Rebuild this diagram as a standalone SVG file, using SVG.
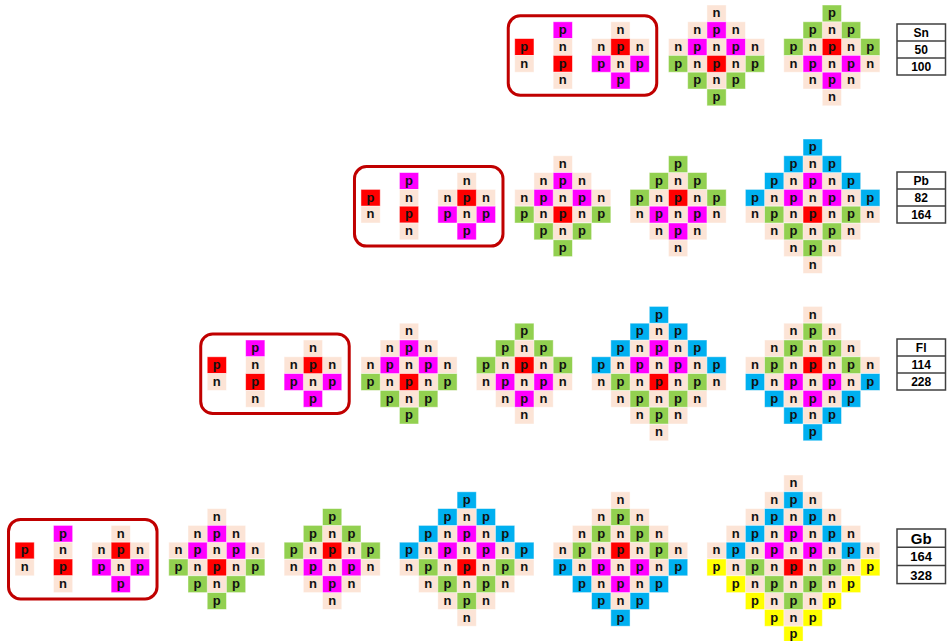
<svg xmlns="http://www.w3.org/2000/svg" xmlns:xlink="http://www.w3.org/1999/xlink" width="947" height="641" viewBox="0 0 947 641">
<style>
.n{fill:#FCE4D6}.M{fill:#FF00FF}.R{fill:#FF0000}.G{fill:#92D050}.B{fill:#00B0F0}.Y{fill:#FFFF00}
.cells rect{stroke:#ffffff;stroke-opacity:.55;stroke-width:.8}
.t{font-family:"Liberation Sans",Arial,sans-serif;font-weight:bold;font-size:13px;fill:#111;text-anchor:middle}
.frame{fill:none;stroke:#C00000;stroke-width:3}
.tb{fill:#fff;stroke:#404040;stroke-width:1.5}
.tt{font-family:"Liberation Sans",Arial,sans-serif;font-weight:bold;font-size:12px;fill:#000;text-anchor:middle}
</style>
<defs>
<g id="bg1" class="cells">
<rect class="n" x="38.44" y="0" width="19.22" height="16.8"/>
<rect class="n" x="19.22" y="16.8" width="57.66" height="16.8"/>
<rect class="n" x="0" y="33.6" width="96.1" height="16.8"/>
<rect class="n" x="0" y="50.4" width="96.1" height="16.8"/>
<rect class="n" x="19.22" y="67.2" width="57.66" height="16.8"/>
<rect class="M" x="38.44" y="16.8" width="19.22" height="16.8"/>
<rect class="M" x="19.22" y="33.6" width="19.22" height="16.8"/>
<rect class="M" x="57.66" y="33.6" width="19.22" height="16.8"/>
<rect class="G" x="0" y="50.4" width="19.22" height="16.8"/>
<rect class="R" x="38.44" y="50.4" width="19.22" height="16.8"/>
<rect class="G" x="76.88" y="50.4" width="19.22" height="16.8"/>
<rect class="G" x="19.22" y="67.2" width="19.22" height="16.8"/>
<rect class="G" x="57.66" y="67.2" width="19.22" height="16.8"/>
<rect class="G" x="38.44" y="84" width="19.22" height="16.8"/>
</g>
<g id="bg2" class="cells">
<rect class="n" x="19.22" y="16.8" width="57.66" height="16.8"/>
<rect class="n" x="0" y="33.6" width="96.1" height="16.8"/>
<rect class="n" x="0" y="50.4" width="96.1" height="16.8"/>
<rect class="n" x="19.22" y="67.2" width="57.66" height="16.8"/>
<rect class="n" x="38.44" y="84" width="19.22" height="16.8"/>
<rect class="G" x="38.44" y="0" width="19.22" height="16.8"/>
<rect class="G" x="19.22" y="16.8" width="19.22" height="16.8"/>
<rect class="G" x="57.66" y="16.8" width="19.22" height="16.8"/>
<rect class="G" x="0" y="33.6" width="19.22" height="16.8"/>
<rect class="R" x="38.44" y="33.6" width="19.22" height="16.8"/>
<rect class="G" x="76.88" y="33.6" width="19.22" height="16.8"/>
<rect class="M" x="19.22" y="50.4" width="19.22" height="16.8"/>
<rect class="M" x="57.66" y="50.4" width="19.22" height="16.8"/>
<rect class="M" x="38.44" y="67.2" width="19.22" height="16.8"/>
</g>
<g id="bg3" class="cells">
<rect class="n" x="38.44" y="16.8" width="57.66" height="16.8"/>
<rect class="n" x="19.22" y="33.6" width="96.1" height="16.8"/>
<rect class="n" x="0" y="50.4" width="134.54" height="16.8"/>
<rect class="n" x="0" y="67.2" width="134.54" height="16.8"/>
<rect class="n" x="19.22" y="84" width="96.1" height="16.8"/>
<rect class="n" x="38.44" y="100.8" width="57.66" height="16.8"/>
<rect class="n" x="57.66" y="117.6" width="19.22" height="16.8"/>
<rect class="B" x="57.66" y="0" width="19.22" height="16.8"/>
<rect class="B" x="38.44" y="16.8" width="19.22" height="16.8"/>
<rect class="B" x="76.88" y="16.8" width="19.22" height="16.8"/>
<rect class="B" x="19.22" y="33.6" width="19.22" height="16.8"/>
<rect class="M" x="57.66" y="33.6" width="19.22" height="16.8"/>
<rect class="B" x="96.1" y="33.6" width="19.22" height="16.8"/>
<rect class="B" x="0" y="50.4" width="19.22" height="16.8"/>
<rect class="M" x="38.44" y="50.4" width="19.22" height="16.8"/>
<rect class="M" x="76.88" y="50.4" width="19.22" height="16.8"/>
<rect class="B" x="115.32" y="50.4" width="19.22" height="16.8"/>
<rect class="G" x="19.22" y="67.2" width="19.22" height="16.8"/>
<rect class="R" x="57.66" y="67.2" width="19.22" height="16.8"/>
<rect class="G" x="96.1" y="67.2" width="19.22" height="16.8"/>
<rect class="G" x="38.44" y="84" width="19.22" height="16.8"/>
<rect class="G" x="76.88" y="84" width="19.22" height="16.8"/>
<rect class="G" x="57.66" y="100.8" width="19.22" height="16.8"/>
</g>
<g id="bg4" class="cells">
<rect class="n" x="57.66" y="0" width="19.22" height="16.8"/>
<rect class="n" x="38.44" y="16.8" width="57.66" height="16.8"/>
<rect class="n" x="19.22" y="33.6" width="96.1" height="16.8"/>
<rect class="n" x="0" y="50.4" width="134.54" height="16.8"/>
<rect class="n" x="0" y="67.2" width="134.54" height="16.8"/>
<rect class="n" x="19.22" y="84" width="96.1" height="16.8"/>
<rect class="n" x="38.44" y="100.8" width="57.66" height="16.8"/>
<rect class="G" x="57.66" y="16.8" width="19.22" height="16.8"/>
<rect class="G" x="38.44" y="33.6" width="19.22" height="16.8"/>
<rect class="G" x="76.88" y="33.6" width="19.22" height="16.8"/>
<rect class="G" x="19.22" y="50.4" width="19.22" height="16.8"/>
<rect class="R" x="57.66" y="50.4" width="19.22" height="16.8"/>
<rect class="G" x="96.1" y="50.4" width="19.22" height="16.8"/>
<rect class="B" x="0" y="67.2" width="19.22" height="16.8"/>
<rect class="M" x="38.44" y="67.2" width="19.22" height="16.8"/>
<rect class="M" x="76.88" y="67.2" width="19.22" height="16.8"/>
<rect class="B" x="115.32" y="67.2" width="19.22" height="16.8"/>
<rect class="B" x="19.22" y="84" width="19.22" height="16.8"/>
<rect class="M" x="57.66" y="84" width="19.22" height="16.8"/>
<rect class="B" x="96.1" y="84" width="19.22" height="16.8"/>
<rect class="B" x="38.44" y="100.8" width="19.22" height="16.8"/>
<rect class="B" x="76.88" y="100.8" width="19.22" height="16.8"/>
<rect class="B" x="57.66" y="117.6" width="19.22" height="16.8"/>
</g>
<g id="bg5" class="cells">
<rect class="n" x="76.88" y="0" width="19.22" height="16.8"/>
<rect class="n" x="57.66" y="16.8" width="57.66" height="16.8"/>
<rect class="n" x="38.44" y="33.6" width="96.1" height="16.8"/>
<rect class="n" x="19.22" y="50.4" width="134.54" height="16.8"/>
<rect class="n" x="0" y="67.2" width="172.98" height="16.8"/>
<rect class="n" x="0" y="84" width="172.98" height="16.8"/>
<rect class="n" x="19.22" y="100.8" width="134.54" height="16.8"/>
<rect class="n" x="38.44" y="117.6" width="96.1" height="16.8"/>
<rect class="n" x="57.66" y="134.4" width="57.66" height="16.8"/>
<rect class="B" x="76.88" y="16.8" width="19.22" height="16.8"/>
<rect class="B" x="57.66" y="33.6" width="19.22" height="16.8"/>
<rect class="B" x="96.1" y="33.6" width="19.22" height="16.8"/>
<rect class="B" x="38.44" y="50.4" width="19.22" height="16.8"/>
<rect class="M" x="76.88" y="50.4" width="19.22" height="16.8"/>
<rect class="B" x="115.32" y="50.4" width="19.22" height="16.8"/>
<rect class="B" x="19.22" y="67.2" width="19.22" height="16.8"/>
<rect class="M" x="57.66" y="67.2" width="19.22" height="16.8"/>
<rect class="M" x="96.1" y="67.2" width="19.22" height="16.8"/>
<rect class="B" x="134.54" y="67.2" width="19.22" height="16.8"/>
<rect class="Y" x="0" y="84" width="19.22" height="16.8"/>
<rect class="G" x="38.44" y="84" width="19.22" height="16.8"/>
<rect class="R" x="76.88" y="84" width="19.22" height="16.8"/>
<rect class="G" x="115.32" y="84" width="19.22" height="16.8"/>
<rect class="Y" x="153.76" y="84" width="19.22" height="16.8"/>
<rect class="Y" x="19.22" y="100.8" width="19.22" height="16.8"/>
<rect class="G" x="57.66" y="100.8" width="19.22" height="16.8"/>
<rect class="G" x="96.1" y="100.8" width="19.22" height="16.8"/>
<rect class="Y" x="134.54" y="100.8" width="19.22" height="16.8"/>
<rect class="Y" x="38.44" y="117.6" width="19.22" height="16.8"/>
<rect class="G" x="76.88" y="117.6" width="19.22" height="16.8"/>
<rect class="Y" x="115.32" y="117.6" width="19.22" height="16.8"/>
<rect class="Y" x="57.66" y="134.4" width="19.22" height="16.8"/>
<rect class="Y" x="96.1" y="134.4" width="19.22" height="16.8"/>
<rect class="Y" x="76.88" y="151.2" width="19.22" height="16.8"/>
</g>
<g id="bgb" class="cells">
<rect class="R" x="0" y="16.8" width="19.22" height="16.8"/>
<rect class="n" x="0" y="33.6" width="19.22" height="16.8"/>
<rect class="M" x="38.44" y="0" width="19.22" height="16.8"/>
<rect class="n" x="38.44" y="16.8" width="19.22" height="16.8"/>
<rect class="R" x="38.44" y="33.6" width="19.22" height="16.8"/>
<rect class="n" x="38.44" y="50.4" width="19.22" height="16.8"/>
<rect class="n" x="96.1" y="0" width="19.22" height="16.8"/>
<rect class="n" x="76.88" y="16.8" width="57.66" height="16.8"/>
<rect class="n" x="76.88" y="33.6" width="57.66" height="16.8"/>
<rect class="R" x="96.1" y="16.8" width="19.22" height="16.8"/>
<rect class="M" x="76.88" y="33.6" width="19.22" height="16.8"/>
<rect class="M" x="115.32" y="33.6" width="19.22" height="16.8"/>
<rect class="M" x="96.1" y="50.4" width="19.22" height="16.8"/>
</g>
</defs>
<rect width="947" height="641" fill="#fff"/>

<!-- Sn -->
<g id="sn-box" transform="translate(514.74,21.8)">
<rect class="frame" x="-6.5" y="-6" width="148.5" height="79.5" rx="12"/>
<use href="#bgb"/>
<text class="t"><tspan x="9.61" y="29">p</tspan><tspan x="9.61" y="45.8">n</tspan></text>
<text class="t"><tspan x="48.05" y="12.2">p</tspan><tspan x="48.05" y="29">n</tspan><tspan x="48.05" y="45.8">p</tspan><tspan x="48.05" y="62.6">n</tspan></text>
<text class="t"><tspan x="105.71" y="12.2">n</tspan><tspan x="86.49 105.71 124.93" y="29">npn</tspan><tspan x="86.49 105.71 124.93" y="45.8">pnp</tspan><tspan x="105.71" y="62.6">p</tspan></text>
</g>
<g id="sn-d1" transform="translate(668.5,5)">
<use href="#bg1"/>
<text class="t"><tspan x="48.05" y="12.2">n</tspan><tspan x="28.83 48.05 67.27" y="29">npn</tspan><tspan x="9.61 28.83 48.05 67.27 86.49" y="45.8">npnpn</tspan><tspan x="9.61 28.83 48.05 67.27 86.49" y="62.6">pnpnp</tspan><tspan x="28.83 48.05 67.27" y="79.4">pnp</tspan><tspan x="48.05" y="96.2">p</tspan></text>
</g>
<g id="sn-d2" transform="translate(783.82,5)">
<use href="#bg2"/>
<text class="t"><tspan x="48.05" y="12.2">p</tspan><tspan x="28.83 48.05 67.27" y="29">pnp</tspan><tspan x="9.61 28.83 48.05 67.27 86.49" y="45.8">pnpnp</tspan><tspan x="9.61 28.83 48.05 67.27 86.49" y="62.6">npnpn</tspan><tspan x="28.83 48.05 67.27" y="79.4">npn</tspan><tspan x="48.05" y="96.2">n</tspan></text>
</g>
<g id="sn-label">
<rect class="tb" x="897" y="24" width="48.5" height="51"/>
<line class="tb" x1="897" y1="41" x2="945.5" y2="41"/><line class="tb" x1="897" y1="58" x2="945.5" y2="58"/>
<text class="tt" x="921.2" y="37">Sn</text><text class="tt" x="921.2" y="54">50</text><text class="tt" x="921.2" y="71">100</text>
</g>

<!-- Pb -->
<g id="pb-box" transform="translate(360.98,172.6)">
<rect class="frame" x="-6.5" y="-6" width="148.5" height="79.5" rx="12"/>
<use href="#bgb"/>
<text class="t"><tspan x="9.61" y="29">p</tspan><tspan x="9.61" y="45.8">n</tspan></text>
<text class="t"><tspan x="48.05" y="12.2">p</tspan><tspan x="48.05" y="29">n</tspan><tspan x="48.05" y="45.8">p</tspan><tspan x="48.05" y="62.6">n</tspan></text>
<text class="t"><tspan x="105.71" y="12.2">n</tspan><tspan x="86.49 105.71 124.93" y="29">npn</tspan><tspan x="86.49 105.71 124.93" y="45.8">pnp</tspan><tspan x="105.71" y="62.6">p</tspan></text>
</g>
<g id="pb-d1" transform="translate(514.74,155.8)">
<use href="#bg1"/>
<text class="t"><tspan x="48.05" y="12.2">n</tspan><tspan x="28.83 48.05 67.27" y="29">npn</tspan><tspan x="9.61 28.83 48.05 67.27 86.49" y="45.8">npnpn</tspan><tspan x="9.61 28.83 48.05 67.27 86.49" y="62.6">pnpnp</tspan><tspan x="28.83 48.05 67.27" y="79.4">pnp</tspan><tspan x="48.05" y="96.2">p</tspan></text>
</g>
<g id="pb-d2" transform="translate(630.06,155.8)">
<use href="#bg2"/>
<text class="t"><tspan x="48.05" y="12.2">p</tspan><tspan x="28.83 48.05 67.27" y="29">pnp</tspan><tspan x="9.61 28.83 48.05 67.27 86.49" y="45.8">pnpnp</tspan><tspan x="9.61 28.83 48.05 67.27 86.49" y="62.6">npnpn</tspan><tspan x="28.83 48.05 67.27" y="79.4">npn</tspan><tspan x="48.05" y="96.2">n</tspan></text>
</g>
<g id="pb-d3" transform="translate(745.38,139)">
<use href="#bg3"/>
<text class="t"><tspan x="67.27" y="12.2">p</tspan><tspan x="48.05 67.27 86.49" y="29">pnp</tspan><tspan x="28.83 48.05 67.27 86.49 105.71" y="45.8">pnpnp</tspan><tspan x="9.61 28.83 48.05 67.27 86.49 105.71 124.93" y="62.6">pnpnpnp</tspan><tspan x="9.61 28.83 48.05 67.27 86.49 105.71 124.93" y="79.4">npnpnpn</tspan><tspan x="28.83 48.05 67.27 86.49 105.71" y="96.2">npnpn</tspan><tspan x="48.05 67.27 86.49" y="113">npn</tspan><tspan x="67.27" y="129.8">n</tspan></text>
</g>
<g id="pb-label">
<rect class="tb" x="897" y="172" width="48.5" height="51"/>
<line class="tb" x1="897" y1="189" x2="945.5" y2="189"/><line class="tb" x1="897" y1="206" x2="945.5" y2="206"/>
<text class="tt" x="921.2" y="185">Pb</text><text class="tt" x="921.2" y="202">82</text><text class="tt" x="921.2" y="219">164</text>
</g>

<!-- Fl -->
<g id="fl-box" transform="translate(207.22,340)">
<rect class="frame" x="-6.5" y="-6" width="148.5" height="79.5" rx="12"/>
<use href="#bgb"/>
<text class="t"><tspan x="9.61" y="29">p</tspan><tspan x="9.61" y="45.8">n</tspan></text>
<text class="t"><tspan x="48.05" y="12.2">p</tspan><tspan x="48.05" y="29">n</tspan><tspan x="48.05" y="45.8">p</tspan><tspan x="48.05" y="62.6">n</tspan></text>
<text class="t"><tspan x="105.71" y="12.2">n</tspan><tspan x="86.49 105.71 124.93" y="29">npn</tspan><tspan x="86.49 105.71 124.93" y="45.8">pnp</tspan><tspan x="105.71" y="62.6">p</tspan></text>
</g>
<g id="fl-d1" transform="translate(360.98,323.2)">
<use href="#bg1"/>
<text class="t"><tspan x="48.05" y="12.2">n</tspan><tspan x="28.83 48.05 67.27" y="29">npn</tspan><tspan x="9.61 28.83 48.05 67.27 86.49" y="45.8">npnpn</tspan><tspan x="9.61 28.83 48.05 67.27 86.49" y="62.6">pnpnp</tspan><tspan x="28.83 48.05 67.27" y="79.4">pnp</tspan><tspan x="48.05" y="96.2">p</tspan></text>
</g>
<g id="fl-d2" transform="translate(476.3,323.2)">
<use href="#bg2"/>
<text class="t"><tspan x="48.05" y="12.2">p</tspan><tspan x="28.83 48.05 67.27" y="29">pnp</tspan><tspan x="9.61 28.83 48.05 67.27 86.49" y="45.8">pnpnp</tspan><tspan x="9.61 28.83 48.05 67.27 86.49" y="62.6">npnpn</tspan><tspan x="28.83 48.05 67.27" y="79.4">npn</tspan><tspan x="48.05" y="96.2">n</tspan></text>
</g>
<g id="fl-d3" transform="translate(591.62,306.4)">
<use href="#bg3"/>
<text class="t"><tspan x="67.27" y="12.2">p</tspan><tspan x="48.05 67.27 86.49" y="29">pnp</tspan><tspan x="28.83 48.05 67.27 86.49 105.71" y="45.8">pnpnp</tspan><tspan x="9.61 28.83 48.05 67.27 86.49 105.71 124.93" y="62.6">pnpnpnp</tspan><tspan x="9.61 28.83 48.05 67.27 86.49 105.71 124.93" y="79.4">npnpnpn</tspan><tspan x="28.83 48.05 67.27 86.49 105.71" y="96.2">npnpn</tspan><tspan x="48.05 67.27 86.49" y="113">npn</tspan><tspan x="67.27" y="129.8">n</tspan></text>
</g>
<g id="fl-d4" transform="translate(745.38,306.4)">
<use href="#bg4"/>
<text class="t"><tspan x="67.27" y="12.2">n</tspan><tspan x="48.05 67.27 86.49" y="29">npn</tspan><tspan x="28.83 48.05 67.27 86.49 105.71" y="45.8">npnpn</tspan><tspan x="9.61 28.83 48.05 67.27 86.49 105.71 124.93" y="62.6">npnpnpn</tspan><tspan x="9.61 28.83 48.05 67.27 86.49 105.71 124.93" y="79.4">pnpnpnp</tspan><tspan x="28.83 48.05 67.27 86.49 105.71" y="96.2">pnpnp</tspan><tspan x="48.05 67.27 86.49" y="113">pnp</tspan><tspan x="67.27" y="129.8">p</tspan></text>
</g>
<g id="fl-label">
<rect class="tb" x="897" y="339" width="48.5" height="51"/>
<line class="tb" x1="897" y1="356" x2="945.5" y2="356"/><line class="tb" x1="897" y1="373" x2="945.5" y2="373"/>
<text class="tt" x="921.2" y="352">Fl</text><text class="tt" x="921.2" y="369">114</text><text class="tt" x="921.2" y="386">228</text>
</g>

<!-- Gb -->
<g id="gb-box" transform="translate(15.02,525.4)">
<rect class="frame" x="-6.5" y="-6" width="148.5" height="79.5" rx="12"/>
<use href="#bgb"/>
<text class="t"><tspan x="9.61" y="29">p</tspan><tspan x="9.61" y="45.8">n</tspan></text>
<text class="t"><tspan x="48.05" y="12.2">p</tspan><tspan x="48.05" y="29">n</tspan><tspan x="48.05" y="45.8">p</tspan><tspan x="48.05" y="62.6">n</tspan></text>
<text class="t"><tspan x="105.71" y="12.2">n</tspan><tspan x="86.49 105.71 124.93" y="29">npn</tspan><tspan x="86.49 105.71 124.93" y="45.8">pnp</tspan><tspan x="105.71" y="62.6">p</tspan></text>
</g>
<g id="gb-d1" transform="translate(168.78,508.6)">
<use href="#bg1"/>
<text class="t"><tspan x="48.05" y="12.2">n</tspan><tspan x="28.83 48.05 67.27" y="29">npn</tspan><tspan x="9.61 28.83 48.05 67.27 86.49" y="45.8">npnpn</tspan><tspan x="9.61 28.83 48.05 67.27 86.49" y="62.6">pnpnp</tspan><tspan x="28.83 48.05 67.27" y="79.4">pnp</tspan><tspan x="48.05" y="96.2">p</tspan></text>
</g>
<g id="gb-d2" transform="translate(284.1,508.6)">
<use href="#bg2"/>
<text class="t"><tspan x="48.05" y="12.2">p</tspan><tspan x="28.83 48.05 67.27" y="29">pnp</tspan><tspan x="9.61 28.83 48.05 67.27 86.49" y="45.8">pnpnp</tspan><tspan x="9.61 28.83 48.05 67.27 86.49" y="62.6">npnpn</tspan><tspan x="28.83 48.05 67.27" y="79.4">npn</tspan><tspan x="48.05" y="96.2">n</tspan></text>
</g>
<g id="gb-d3" transform="translate(399.42,491.8)">
<use href="#bg3"/>
<text class="t"><tspan x="67.27" y="12.2">p</tspan><tspan x="48.05 67.27 86.49" y="29">pnp</tspan><tspan x="28.83 48.05 67.27 86.49 105.71" y="45.8">pnpnp</tspan><tspan x="9.61 28.83 48.05 67.27 86.49 105.71 124.93" y="62.6">pnpnpnp</tspan><tspan x="9.61 28.83 48.05 67.27 86.49 105.71 124.93" y="79.4">npnpnpn</tspan><tspan x="28.83 48.05 67.27 86.49 105.71" y="96.2">npnpn</tspan><tspan x="48.05 67.27 86.49" y="113">npn</tspan><tspan x="67.27" y="129.8">n</tspan></text>
</g>
<g id="gb-d4" transform="translate(553.18,491.8)">
<use href="#bg4"/>
<text class="t"><tspan x="67.27" y="12.2">n</tspan><tspan x="48.05 67.27 86.49" y="29">npn</tspan><tspan x="28.83 48.05 67.27 86.49 105.71" y="45.8">npnpn</tspan><tspan x="9.61 28.83 48.05 67.27 86.49 105.71 124.93" y="62.6">npnpnpn</tspan><tspan x="9.61 28.83 48.05 67.27 86.49 105.71 124.93" y="79.4">pnpnpnp</tspan><tspan x="28.83 48.05 67.27 86.49 105.71" y="96.2">pnpnp</tspan><tspan x="48.05 67.27 86.49" y="113">pnp</tspan><tspan x="67.27" y="129.8">p</tspan></text>
</g>
<g id="gb-d5" transform="translate(706.94,475)">
<use href="#bg5"/>
<text class="t"><tspan x="86.49" y="12.2">n</tspan><tspan x="67.27 86.49 105.71" y="29">npn</tspan><tspan x="48.05 67.27 86.49 105.71 124.93" y="45.8">npnpn</tspan><tspan x="28.83 48.05 67.27 86.49 105.71 124.93 144.15" y="62.6">npnpnpn</tspan><tspan x="9.61 28.83 48.05 67.27 86.49 105.71 124.93 144.15 163.37" y="79.4">npnpnpnpn</tspan><tspan x="9.61 28.83 48.05 67.27 86.49 105.71 124.93 144.15 163.37" y="96.2">pnpnpnpnp</tspan><tspan x="28.83 48.05 67.27 86.49 105.71 124.93 144.15" y="113">pnpnpnp</tspan><tspan x="48.05 67.27 86.49 105.71 124.93" y="129.8">pnpnp</tspan><tspan x="67.27 86.49 105.71" y="146.6">pnp</tspan><tspan x="86.49" y="163.4">p</tspan></text>
</g>
<g id="gb-label">
<rect class="tb" x="897" y="529" width="48.5" height="54.6"/>
<line class="tb" x1="897" y1="547.2" x2="945.5" y2="547.2"/><line class="tb" x1="897" y1="565.4" x2="945.5" y2="565.4"/>
<text class="tt" x="921.2" y="544" style="font-size:15px">Gb</text><text class="tt" x="921.2" y="561" style="font-size:13px">164</text><text class="tt" x="921.2" y="579.5" style="font-size:13px">328</text>
</g>
</svg>
